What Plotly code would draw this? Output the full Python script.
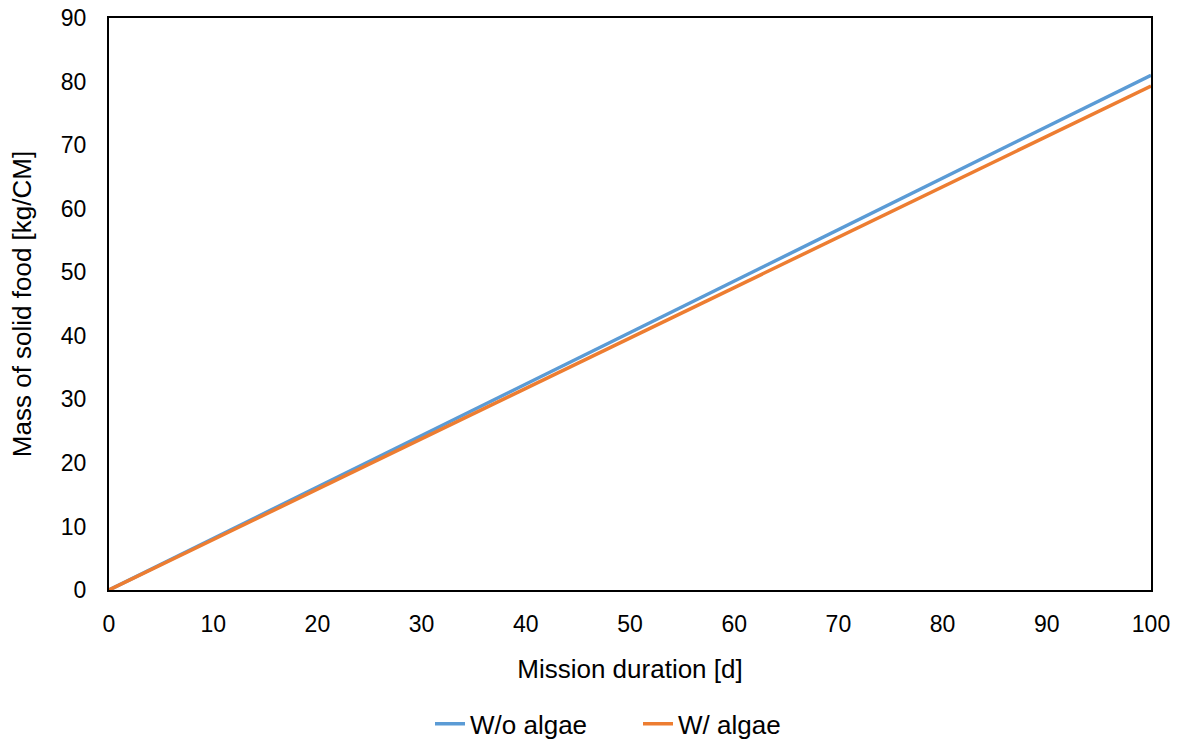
import plotly.graph_objects as go

days = [0, 100]
wo_algae = [0, 81.0]
w_algae = [0, 79.3]

fig = go.Figure()
fig.add_trace(go.Scatter(x=days, y=wo_algae, mode="lines", name="W/o algae",
                         line=dict(color="#5B9BD5", width=3.5)))
fig.add_trace(go.Scatter(x=days, y=w_algae, mode="lines", name="W/ algae",
                         line=dict(color="#ED7D31", width=3.5)))

font = "Liberation Sans, Arial, sans-serif"
fig.update_layout(
    width=1178, height=742,
    margin=dict(l=109, r=27, t=18, b=152, autoexpand=False),
    paper_bgcolor="white", plot_bgcolor="white",
    font=dict(family=font, size=23, color="#000000"),
    showlegend=True,
    legend=dict(orientation="h", x=(430 - 109) / 1042, xanchor="left", y=-0.234, yanchor="middle",
                font=dict(size=26), traceorder="normal",
                entrywidth=163, entrywidthmode="pixels"),
)
fig.update_xaxes(range=[0, 100], dtick=10, showgrid=False, zeroline=False,
                 showline=True, linecolor="black", linewidth=2, mirror=True,
                 ticks="", tickfont=dict(size=23), ticklabelstandoff=12,
                 title=dict(text="Mission duration [d]", font=dict(size=26), standoff=24))
fig.update_yaxes(range=[0, 90], dtick=10, showgrid=False, zeroline=False,
                 showline=True, linecolor="black", linewidth=2, mirror=True,
                 ticks="", tickfont=dict(size=23), ticklabelstandoff=16,
                 title=dict(text="Mass of solid food [kg/CM]", font=dict(size=26), standoff=22))

fig.write_html("out.html")
